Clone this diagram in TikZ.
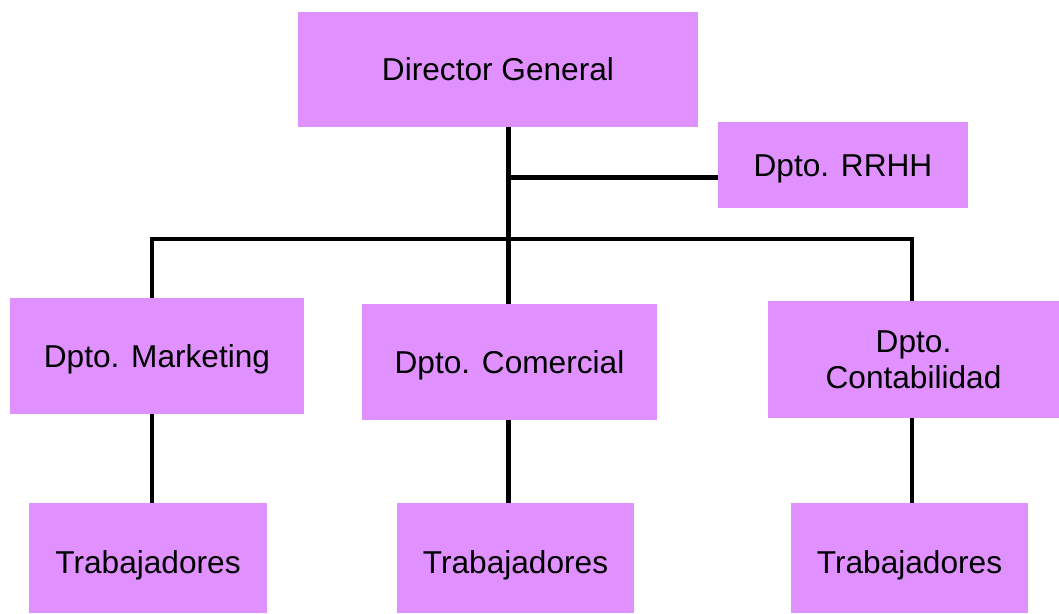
\documentclass[tikz,border=0pt]{standalone}
\usepackage{fontspec}
\setmainfont{Liberation Sans}
\definecolor{boxlila}{HTML}{E091FF}
\begin{document}
\begin{tikzpicture}[
        caja/.style={rectangle,fill=boxlila,inner sep=1mm,align=center,text height=12.9pt,text depth=0pt,font=\fontsize{18}{20.5}\selectfont},
        trab/.style={caja,text height=17.4pt,minimum width=4.75cm,minimum height=2.2cm},
        linea/.style={line width=2.8pt,black}
      ]
      \useasboundingbox (0,0) rectangle (21.18,-12.28);
      \node[caja,minimum width=8cm,minimum height=2.3cm] (dg) at (9.96,-1.39) {Director General};
      \node[caja,minimum width=5cm,minimum height=1.72cm] (rrhh) at (16.86,-3.30) {Dpto. RRHH};
      \node[caja,minimum width=5.88cm,minimum height=2.32cm] (mkt) at (3.14,-7.12) {Dpto. Marketing};
      \node[caja,minimum width=5.9cm,minimum height=2.32cm] (com) at (10.19,-7.24) {Dpto. Comercial};
      \node[caja,text height=33.4pt,minimum width=5.82cm,minimum height=2.34cm] (cont) at (18.27,-7.19) {Dpto.\\Contabilidad};
      \node[trab] (t1) at (2.96,-11.16) {Trabajadores};
      \node[trab] (t2) at (10.31,-11.16) {Trabajadores};
      \node[trab] (t3) at (18.19,-11.16) {Trabajadores};
      % puntos de union
      \coordinate (jr) at (10.17,-3.55);
      \coordinate (busL) at (3.04,-4.78);
      \coordinate (busM) at (10.17,-4.78);
      \coordinate (busR) at (18.24,-4.78);
      % lineas
      \draw[linea] (dg.south -| jr) -- (com.north -| jr);
      \draw[linea] (jr) -- (jr -| rrhh.west);
      \draw[linea,line cap=rect] (busL) -- (busR);
      \draw[linea] (busL) -- (busL |- mkt.north);
      \draw[linea] (busR) -- (busR |- cont.north);
      \draw[linea] (mkt.south -| busL) -- (t1.north -| busL);
      \draw[linea] (com.south -| busM) -- (t2.north -| busM);
      \draw[linea] (cont.south -| busR) -- (t3.north -| busR);
    \end{tikzpicture}
\end{document}
